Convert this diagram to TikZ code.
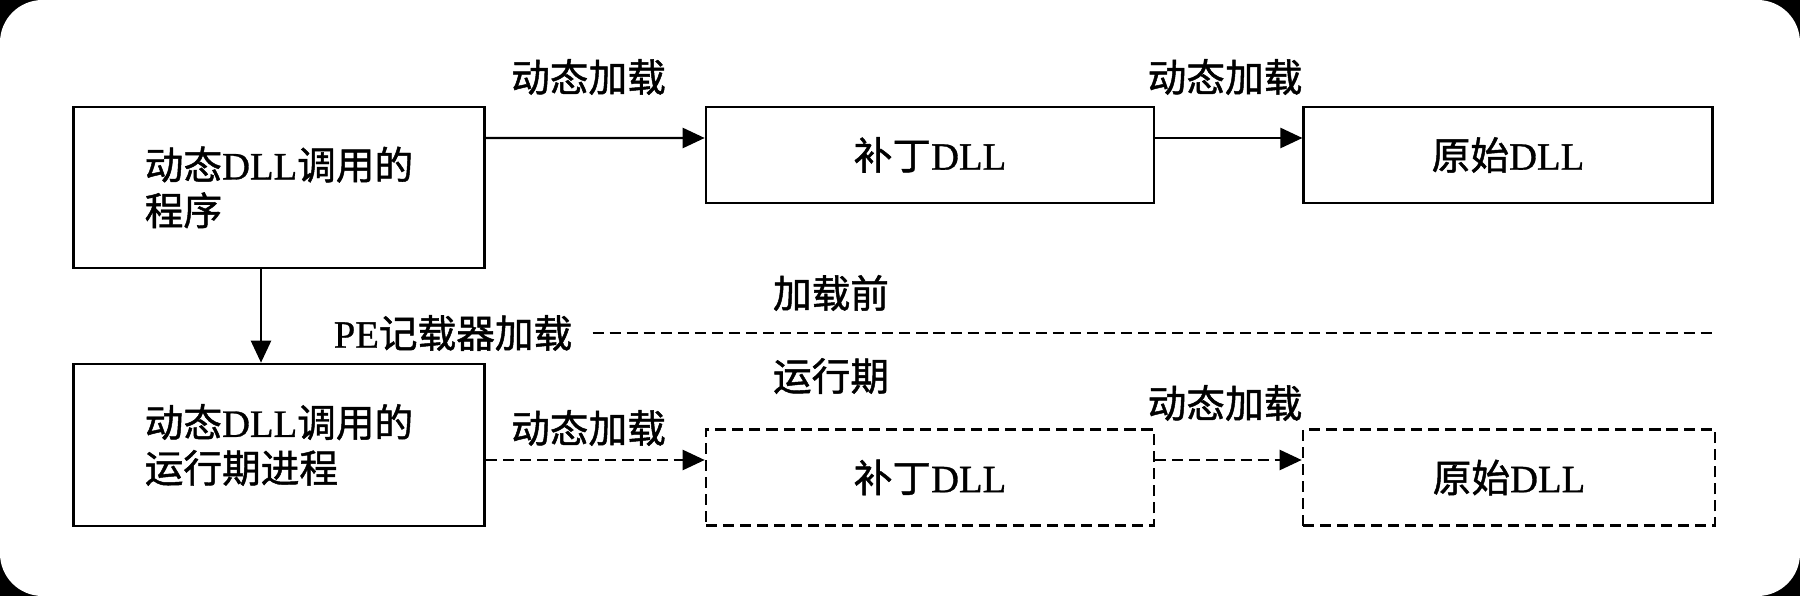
\documentclass[tikz,border=0pt]{standalone}
\usepackage{fontspec}
\setmainfont{Liberation Serif}[FakeBold=0.8]
\newfontfamily\cjk{Noto Sans CJK SC}[FakeBold=1.2]
\usetikzlibrary{arrows.meta}
\newcommand{\zh}[1]{{\cjk #1}}

\begin{document}
\begin{tikzpicture}[>={Triangle[length=0.44cm,width=0.4cm]},font=\fontsize{22pt}{26pt}\selectfont]
  \tikzstyle{block}=[draw,line width=1.5pt,minimum height=1.92cm,inner sep=0pt,align=left]
  \tikzstyle{runblock}=[block,dash pattern=on 6.3pt off 3.4pt]
  \tikzstyle{lbl}=[inner sep=0pt]
  \tikzstyle{arr}=[->,line width=1.4pt]
  \tikzstyle{runarr}=[arr,dash pattern=on 6.3pt off 3.4pt]

  % page
  \useasboundingbox (0,0) rectangle (36,11.92);
  \fill[black] (0,0) rectangle (36,11.92);
  \fill[white,rounded corners=0.85cm] (0,0) rectangle (36,11.92);

  % before loading
  \node[block,minimum width=8.23cm,minimum height=3.22cm] (prog) at (5.58,8.17)
    {\zh{动态}DLL\zh{调用的}\\\zh{程序}};
  \node[block,minimum width=8.96cm] (patch) at (18.6,8.82) {\zh{补丁}DLL};
  \node[block,minimum width=8.17cm] (orig)  at (30.16,8.82) {\zh{原始}DLL};

  % run time
  \node[block,minimum width=8.23cm,minimum height=3.24cm] (proc) at (5.58,3.02)
    {\zh{动态}DLL\zh{调用的}\\\zh{运行期进程}};
  \node[runblock,minimum width=8.96cm] (patchrun) at (18.6,2.37) {\zh{补丁}DLL};
  \node[runblock,minimum width=8.24cm] (origrun)  at (30.18,2.37) {\zh{原始}DLL};

  % labels
  \node[lbl] (load1)    at (11.77,10.38) {\zh{动态加载}};
  \node[lbl] (load2)    at (24.5,10.38)  {\zh{动态加载}};
  \node[lbl] (before)   at (16.62,6.06)  {\zh{加载前}};
  \node[lbl] (pe)       at (9.06,5.26)   {PE\zh{记载器加载}};
  \node[lbl] (runtime)  at (16.62,4.4)   {\zh{运行期}};
  \node[lbl] (loadrun1) at (11.77,3.36)  {\zh{动态加载}};
  \node[lbl] (loadrun2) at (24.5,3.86)   {\zh{动态加载}};

  \draw[arr] ([yshift=0.99cm]prog.east) -- ([yshift=0.34cm]patch.west);
  \draw[arr] ([yshift=0.34cm]patch.east) -- ([yshift=0.34cm]orig.west);
  \draw[arr] ([xshift=-0.36cm]prog.south) -- ([xshift=-0.36cm]proc.north);
  \draw[runarr] ([yshift=-0.3cm]proc.east) -- ([yshift=0.35cm]patchrun.west);
  \draw[runarr] ([yshift=0.35cm]patchrun.east) -- ([yshift=0.35cm]origrun.west);

  \draw[line width=1.4pt,dash pattern=on 6.3pt off 3.4pt]
    ([xshift=0.4cm]pe.east) -- (pe.east -| orig.east);
\end{tikzpicture}
\end{document}
